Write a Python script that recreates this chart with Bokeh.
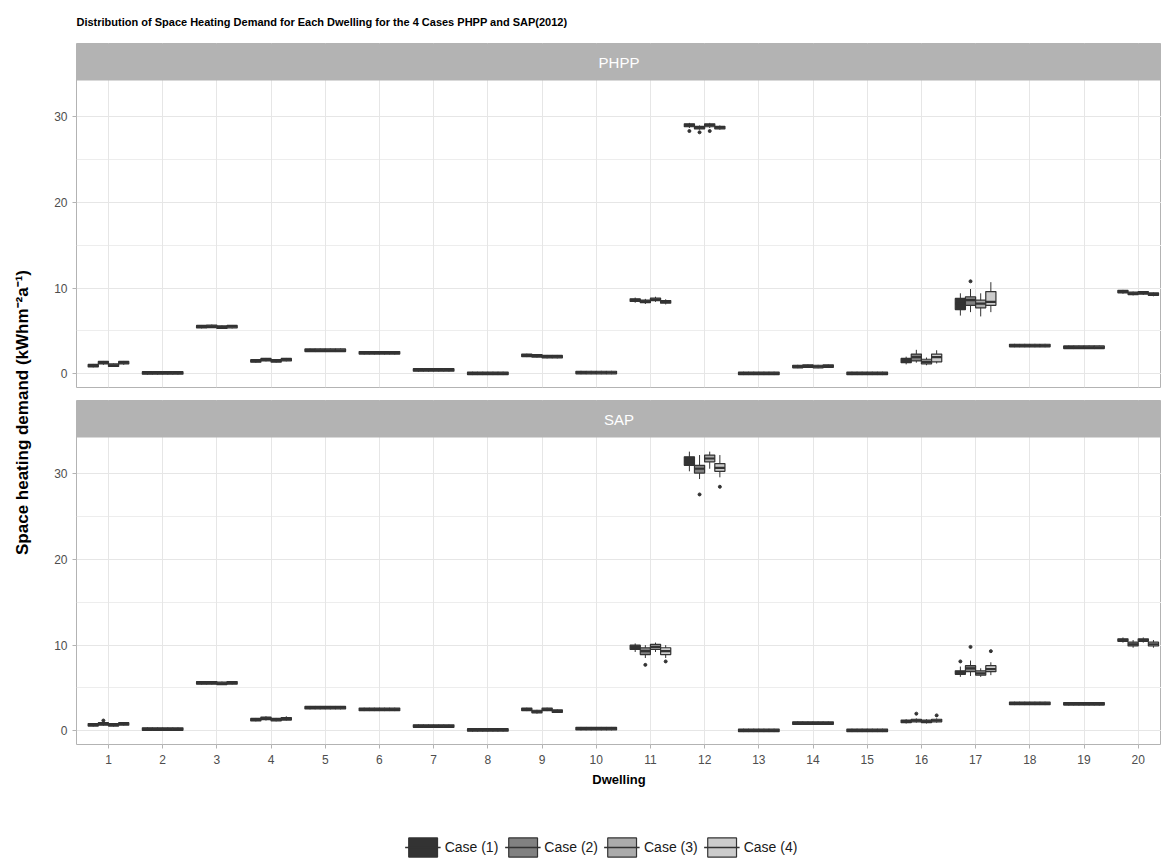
import math
from bokeh.plotting import figure
from bokeh.models import (ColumnDataSource, Range1d, FixedTicker, BoxAnnotation, Label,
                          Legend, LegendItem, Grid, LinearAxis, Spacer)
from bokeh.layouts import column, row
from bokeh.transform import dodge
from bokeh.embed import file_html
from bokeh.resources import INLINE

FONT = "Liberation Sans"

title_text = "Distribution of Space Heating Demand for Each Dwelling for the 4 Cases PHPP and SAP(2012)"
y_title = "Space heating demand (kWhm\u207B\u00B2a\u207B\u00B9)"
x_title = "Dwelling"

dwellings = list(range(1, 21))
cases = ["Case (1)", "Case (2)", "Case (3)", "Case (4)"]
case_colors = ["#333333", "#818181", "#ABABAB", "#CCCCCC"]
panels = ["PHPP", "SAP"]
y_ticks = [0, 10, 20, 30]
y_minor = [5, 15, 25]

# box statistics per dwelling: (lower whisker, q1, median, q3, upper whisker)
phpp_case1 = [
    (0.75, 0.8, 0.95, 1.1, 1.15), (-0.1, -0.05, 0.1, 0.25, 0.3), (5.3, 5.35, 5.5, 5.65, 5.7),
    (1.3, 1.35, 1.5, 1.65, 1.7), (2.55, 2.6, 2.75, 2.9, 2.95), (2.25, 2.3, 2.45, 2.6, 2.65),
    (0.25, 0.3, 0.45, 0.6, 0.65), (-0.15, -0.1, 0.05, 0.2, 0.25), (1.95, 2.0, 2.15, 2.3, 2.35),
    (-0.05, 0.0, 0.15, 0.3, 0.35), (8.3, 8.45, 8.6, 8.75, 8.9), (28.7, 28.85, 29.0, 29.2, 29.3),
    (-0.15, -0.1, 0.05, 0.2, 0.25), (0.65, 0.7, 0.85, 1.0, 1.05), (-0.15, -0.1, 0.05, 0.2, 0.25),
    (1.1, 1.3, 1.5, 1.8, 2.0), (6.8, 7.5, 8.2, 8.8, 9.4), (3.1, 3.15, 3.3, 3.45, 3.5),
    (2.9, 2.95, 3.1, 3.25, 3.3), (9.35, 9.45, 9.6, 9.75, 9.8),
]
phpp_case2 = [
    (1.05, 1.15, 1.3, 1.45, 1.5), (-0.1, -0.05, 0.1, 0.25, 0.3), (5.35, 5.4, 5.55, 5.7, 5.75),
    (1.45, 1.5, 1.65, 1.8, 1.85), (2.55, 2.6, 2.75, 2.9, 2.95), (2.25, 2.3, 2.45, 2.6, 2.65),
    (0.25, 0.3, 0.45, 0.6, 0.65), (-0.15, -0.1, 0.05, 0.2, 0.25), (1.9, 1.95, 2.1, 2.25, 2.3),
    (-0.05, 0.0, 0.15, 0.3, 0.35), (8.15, 8.3, 8.45, 8.6, 8.75), (28.5, 28.6, 28.75, 28.9, 29.0),
    (-0.15, -0.1, 0.05, 0.2, 0.25), (0.7, 0.75, 0.9, 1.05, 1.1), (-0.15, -0.1, 0.05, 0.2, 0.25),
    (1.3, 1.5, 1.95, 2.3, 2.8), (7.2, 8.0, 8.6, 9.0, 9.9), (3.1, 3.15, 3.3, 3.45, 3.5),
    (2.9, 2.95, 3.1, 3.25, 3.3), (9.15, 9.25, 9.4, 9.55, 9.6),
]
phpp_case3 = [
    (0.8, 0.85, 1.0, 1.15, 1.2), (-0.1, -0.05, 0.1, 0.25, 0.3), (5.25, 5.3, 5.45, 5.6, 5.65),
    (1.3, 1.35, 1.5, 1.65, 1.7), (2.55, 2.6, 2.75, 2.9, 2.95), (2.25, 2.3, 2.45, 2.6, 2.65),
    (0.25, 0.3, 0.45, 0.6, 0.65), (-0.15, -0.1, 0.05, 0.2, 0.25), (1.8, 1.85, 2.0, 2.15, 2.2),
    (-0.05, 0.0, 0.15, 0.3, 0.35), (8.4, 8.55, 8.7, 8.85, 9.0), (28.7, 28.85, 29.05, 29.2, 29.3),
    (-0.15, -0.1, 0.05, 0.2, 0.25), (0.65, 0.7, 0.85, 1.0, 1.05), (-0.15, -0.1, 0.05, 0.2, 0.25),
    (1.0, 1.15, 1.4, 1.7, 1.9), (6.7, 7.7, 8.2, 8.6, 9.4), (3.1, 3.15, 3.3, 3.45, 3.5),
    (2.9, 2.95, 3.1, 3.25, 3.3), (9.2, 9.3, 9.45, 9.6, 9.65),
]
phpp_case4 = [
    (1.05, 1.15, 1.3, 1.45, 1.5), (-0.1, -0.05, 0.1, 0.25, 0.3), (5.3, 5.35, 5.5, 5.65, 5.7),
    (1.45, 1.5, 1.65, 1.8, 1.85), (2.55, 2.6, 2.75, 2.9, 2.95), (2.25, 2.3, 2.45, 2.6, 2.65),
    (0.25, 0.3, 0.45, 0.6, 0.65), (-0.15, -0.1, 0.05, 0.2, 0.25), (1.8, 1.85, 2.0, 2.15, 2.2),
    (-0.05, 0.0, 0.15, 0.3, 0.35), (8.1, 8.25, 8.4, 8.55, 8.7), (28.5, 28.6, 28.75, 28.9, 29.0),
    (-0.15, -0.1, 0.05, 0.2, 0.25), (0.7, 0.75, 0.9, 1.05, 1.1), (-0.15, -0.1, 0.05, 0.2, 0.25),
    (1.2, 1.4, 1.95, 2.3, 2.75), (7.2, 8.0, 8.4, 9.6, 10.7), (3.1, 3.15, 3.3, 3.45, 3.5),
    (2.9, 2.95, 3.1, 3.25, 3.3), (9.05, 9.15, 9.3, 9.45, 9.5),
]

sap_case1 = [
    (0.5, 0.55, 0.7, 0.85, 0.9), (0.0, 0.05, 0.2, 0.35, 0.4), (5.4, 5.45, 5.6, 5.75, 5.8),
    (1.1, 1.15, 1.3, 1.45, 1.5), (2.5, 2.55, 2.7, 2.85, 2.9), (2.3, 2.35, 2.5, 2.65, 2.7),
    (0.35, 0.4, 0.55, 0.7, 0.75), (-0.1, -0.05, 0.1, 0.25, 0.3), (2.3, 2.35, 2.5, 2.65, 2.7),
    (0.05, 0.1, 0.25, 0.4, 0.45), (9.2, 9.5, 9.8, 10.0, 10.2), (30.3, 31.0, 31.5, 32.0, 32.6),
    (-0.15, -0.1, 0.05, 0.2, 0.25), (0.7, 0.75, 0.9, 1.05, 1.1), (-0.15, -0.1, 0.05, 0.2, 0.25),
    (0.85, 0.95, 1.1, 1.25, 1.35), (6.3, 6.6, 6.8, 7.0, 7.5), (3.0, 3.05, 3.2, 3.35, 3.4),
    (2.95, 3.0, 3.15, 3.3, 3.35), (10.3, 10.45, 10.6, 10.75, 10.9),
]
sap_case2 = [
    (0.6, 0.65, 0.8, 0.95, 1.0), (0.0, 0.05, 0.2, 0.35, 0.4), (5.4, 5.45, 5.6, 5.75, 5.8),
    (1.2, 1.3, 1.45, 1.6, 1.7), (2.5, 2.55, 2.7, 2.85, 2.9), (2.3, 2.35, 2.5, 2.65, 2.7),
    (0.35, 0.4, 0.55, 0.7, 0.75), (-0.1, -0.05, 0.1, 0.25, 0.3), (2.0, 2.1, 2.25, 2.4, 2.45),
    (0.05, 0.1, 0.25, 0.4, 0.45), (8.5, 8.9, 9.3, 9.7, 10.0), (29.4, 30.1, 30.6, 31.0, 32.2),
    (-0.15, -0.1, 0.05, 0.2, 0.25), (0.7, 0.75, 0.9, 1.05, 1.1), (-0.15, -0.1, 0.05, 0.2, 0.25),
    (0.95, 1.05, 1.2, 1.35, 1.45), (6.4, 6.9, 7.3, 7.6, 8.2), (3.0, 3.05, 3.2, 3.35, 3.4),
    (2.95, 3.0, 3.15, 3.3, 3.35), (9.7, 9.9, 10.1, 10.35, 10.6),
]
sap_case3 = [
    (0.5, 0.55, 0.7, 0.85, 0.9), (0.0, 0.05, 0.2, 0.35, 0.4), (5.35, 5.4, 5.55, 5.7, 5.75),
    (1.1, 1.15, 1.3, 1.45, 1.5), (2.5, 2.55, 2.7, 2.85, 2.9), (2.3, 2.35, 2.5, 2.65, 2.7),
    (0.35, 0.4, 0.55, 0.7, 0.75), (-0.1, -0.05, 0.1, 0.25, 0.3), (2.3, 2.35, 2.5, 2.65, 2.7),
    (0.05, 0.1, 0.25, 0.4, 0.45), (9.2, 9.5, 9.8, 10.1, 10.3), (30.6, 31.4, 31.8, 32.2, 32.6),
    (-0.15, -0.1, 0.05, 0.2, 0.25), (0.7, 0.75, 0.9, 1.05, 1.1), (-0.15, -0.1, 0.05, 0.2, 0.25),
    (0.85, 0.95, 1.1, 1.25, 1.35), (6.3, 6.5, 6.7, 7.0, 7.3), (3.0, 3.05, 3.2, 3.35, 3.4),
    (2.95, 3.0, 3.15, 3.3, 3.35), (10.3, 10.45, 10.6, 10.75, 10.9),
]
sap_case4 = [
    (0.6, 0.65, 0.8, 0.95, 1.0), (0.0, 0.05, 0.2, 0.35, 0.4), (5.4, 5.45, 5.6, 5.75, 5.8),
    (1.2, 1.25, 1.4, 1.55, 1.7), (2.5, 2.55, 2.7, 2.85, 2.9), (2.3, 2.35, 2.5, 2.65, 2.7),
    (0.35, 0.4, 0.55, 0.7, 0.75), (-0.1, -0.05, 0.1, 0.25, 0.3), (2.1, 2.15, 2.3, 2.45, 2.5),
    (0.05, 0.1, 0.25, 0.4, 0.45), (8.5, 8.9, 9.3, 9.7, 10.0), (29.6, 30.3, 30.7, 31.2, 32.2),
    (-0.15, -0.1, 0.05, 0.2, 0.25), (0.7, 0.75, 0.9, 1.05, 1.1), (-0.15, -0.1, 0.05, 0.2, 0.25),
    (0.95, 1.05, 1.2, 1.35, 1.45), (6.5, 6.9, 7.2, 7.6, 8.0), (3.0, 3.05, 3.2, 3.35, 3.4),
    (2.95, 3.0, 3.15, 3.3, 3.35), (9.7, 9.9, 10.1, 10.35, 10.6),
]

# outliers: (dwelling, case index 1-4, value)
phpp_outliers = [(12, 1, 28.35), (12, 2, 28.2), (12, 3, 28.35), (17, 2, 10.8)]
sap_outliers = [(1, 2, 1.2), (11, 2, 7.7), (11, 4, 8.1), (12, 2, 27.6), (12, 4, 28.5),
                (16, 2, 2.0), (16, 4, 1.8), (17, 1, 8.1), (17, 2, 9.8), (17, 4, 9.3)]

panel_stats = {"PHPP": [phpp_case1, phpp_case2, phpp_case3, phpp_case4],
               "SAP": [sap_case1, sap_case2, sap_case3, sap_case4]}
panel_outliers = {"PHPP": phpp_outliers, "SAP": sap_outliers}

# ---- layout constants ----
X_START, X_END = 0.41, 20.43
Y_START, Y_PANEL_END = -1.6, 34.25
FRAME_H, STRIP_H = 344, 37
Y_END = Y_PANEL_END + (Y_PANEL_END - Y_START) * STRIP_H / (FRAME_H - STRIP_H)
BOX_W = 0.1875
OFFSETS = [-0.28125, -0.09375, 0.09375, 0.28125]
EDGE = "#333333"
GRID = "#E6E6E6"
BORDER = "#B3B3B3"
TICKLAB = "#4D4D4D"


def make_panel(name, height, top_border, bottom_border, show_x):
    p = figure(width=1123, height=height, x_range=Range1d(X_START, X_END),
               y_range=Range1d(Y_START, Y_END), x_axis_type=None, y_axis_type=None,
               output_backend="svg", toolbar_location=None,
               min_border_left=38, min_border_right=0,
               min_border_top=top_border, min_border_bottom=bottom_border)
    p.background_fill_color = "white"
    p.border_fill_color = "white"
    p.outline_line_color = BORDER
    p.outline_line_width = 1

    yt = FixedTicker(ticks=y_ticks, minor_ticks=y_minor)
    p.add_layout(Grid(dimension=1, ticker=yt, grid_line_color=GRID, grid_line_width=1,
                      minor_grid_line_color="#EDEDED", minor_grid_line_width=1))
    p.add_layout(Grid(dimension=0, ticker=FixedTicker(ticks=dwellings),
                      grid_line_color=GRID, grid_line_width=1))

    yaxis = LinearAxis(ticker=yt, axis_line_color=None, major_tick_line_color=BORDER,
                       major_tick_out=4, major_tick_in=0, minor_tick_line_color=None,
                       major_label_text_color=TICKLAB, major_label_text_font=FONT,
                       major_label_text_font_size="12px", major_label_standoff=5)
    p.add_layout(yaxis, "left")
    if show_x:
        xaxis = LinearAxis(ticker=FixedTicker(ticks=dwellings), axis_line_color=None,
                           major_tick_line_color=BORDER, major_tick_out=4, major_tick_in=0,
                           minor_tick_line_color=None, major_label_text_color=TICKLAB,
                           major_label_text_font=FONT, major_label_text_font_size="12px",
                           major_label_standoff=6, axis_label=x_title,
                           axis_label_text_font=FONT, axis_label_text_font_size="13px",
                           axis_label_text_font_style="bold", axis_label_text_color="black",
                           axis_label_standoff=5)
        p.add_layout(xaxis, "below")

    sources = []
    for ci, (stats, color, off) in enumerate(zip(panel_stats[name], case_colors, OFFSETS)):
        src = ColumnDataSource(dict(
            x=dwellings,
            lo=[s[0] for s in stats], q1=[s[1] for s in stats], med=[s[2] for s in stats],
            q3=[s[3] for s in stats], hi=[s[4] for s in stats]))
        sources.append(src)
        p.segment(x0=dodge("x", off), y0="lo", x1=dodge("x", off), y1="hi",
                  line_color=EDGE, line_width=1, source=src)
        p.vbar(x=dodge("x", off), width=BOX_W, bottom="q1", top="q3", fill_color=color,
               line_color=EDGE, line_width=1.2, source=src)
        p.segment(x0=dodge("x", off - BOX_W / 2), y0="med", x1=dodge("x", off + BOX_W / 2),
                  y1="med", line_color=EDGE, line_width=2.2, source=src)
        outs = [o for o in panel_outliers[name] if o[1] == ci + 1]
        osrc = ColumnDataSource(dict(x=[o[0] for o in outs], y=[o[2] for o in outs]))
        p.scatter(x=dodge("x", off), y="y", size=3, color=EDGE, source=osrc)

    p.add_layout(BoxAnnotation(bottom=Y_PANEL_END, fill_color=BORDER, fill_alpha=1.0,
                               line_color=None))
    p.add_layout(Label(x=(X_START + X_END) / 2, y=(Y_PANEL_END + Y_END) / 2, text=name,
                       text_color="white", text_font=FONT, text_font_size="15px",
                       text_align="center", text_baseline="middle"))
    return p, sources


p1, _ = make_panel(panels[0], 350, 0, 6, False)
p2, sap_sources = make_panel(panels[1], 401, 7, 50, True)

# title strip
title_fig = figure(width=1161, height=43, x_range=Range1d(0, 1161), y_range=Range1d(0, 43),
                   x_axis_type=None, y_axis_type=None, output_backend="svg",
                   toolbar_location=None, min_border=0, outline_line_color=None)
title_fig.add_layout(Label(x=76, y=22, text=title_text, text_font=FONT, text_font_size="11px",
                           text_font_style="bold", text_color="black", text_align="left",
                           text_baseline="alphabetic"))

# y axis title
ylab_fig = figure(width=38, height=751, x_range=Range1d(0, 38), y_range=Range1d(0, 751),
                  x_axis_type=None, y_axis_type=None, output_backend="svg",
                  toolbar_location=None, min_border=0, outline_line_color=None)
ylab_fig.add_layout(Label(x=22, y=382, text=y_title, angle=math.pi / 2, text_font=FONT,
                          text_font_size="17px", text_font_style="bold", text_color="black",
                          text_align="center", text_baseline="middle"))

# legend (keys drawn from hidden copies of the SAP box renderers)
leg_fig = figure(width=1120, height=65, x_range=Range1d(X_START, X_END), y_range=Range1d(-100, -90),
                 x_axis_type=None, y_axis_type=None, output_backend="svg",
                 toolbar_location=None, min_border=0, outline_line_color=None)
items = []
for lab, color, off, src in zip(cases, case_colors, OFFSETS, sap_sources):
    rb = leg_fig.vbar(x=dodge("x", off), width=BOX_W, bottom="q1", top="q3", fill_color=color,
                      line_color=EDGE, line_width=1.2, source=src, visible=False)
    rm = leg_fig.segment(x0=dodge("x", off - BOX_W / 2), y0="med", x1=dodge("x", off + BOX_W / 2),
                         y1="med", line_color=EDGE, line_width=1.5, source=src, visible=False)
    items.append(LegendItem(label=lab, renderers=[rb, rm]))
legend = Legend(items=items, orientation="horizontal", location="bottom_center",
                border_line_color=None, background_fill_alpha=0, label_text_font=FONT,
                label_text_font_size="14px", label_text_color="#1A1A1A", glyph_width=36,
                glyph_height=24, label_standoff=4, spacing=6, padding=0, margin=0,
                click_policy="none")
leg_fig.add_layout(legend)

layout = column(title_fig,
                row(ylab_fig, column(p1, p2)),
                row(Spacer(width=41, height=65), leg_fig))

open("out.html", "w").write(file_html(layout, INLINE))
